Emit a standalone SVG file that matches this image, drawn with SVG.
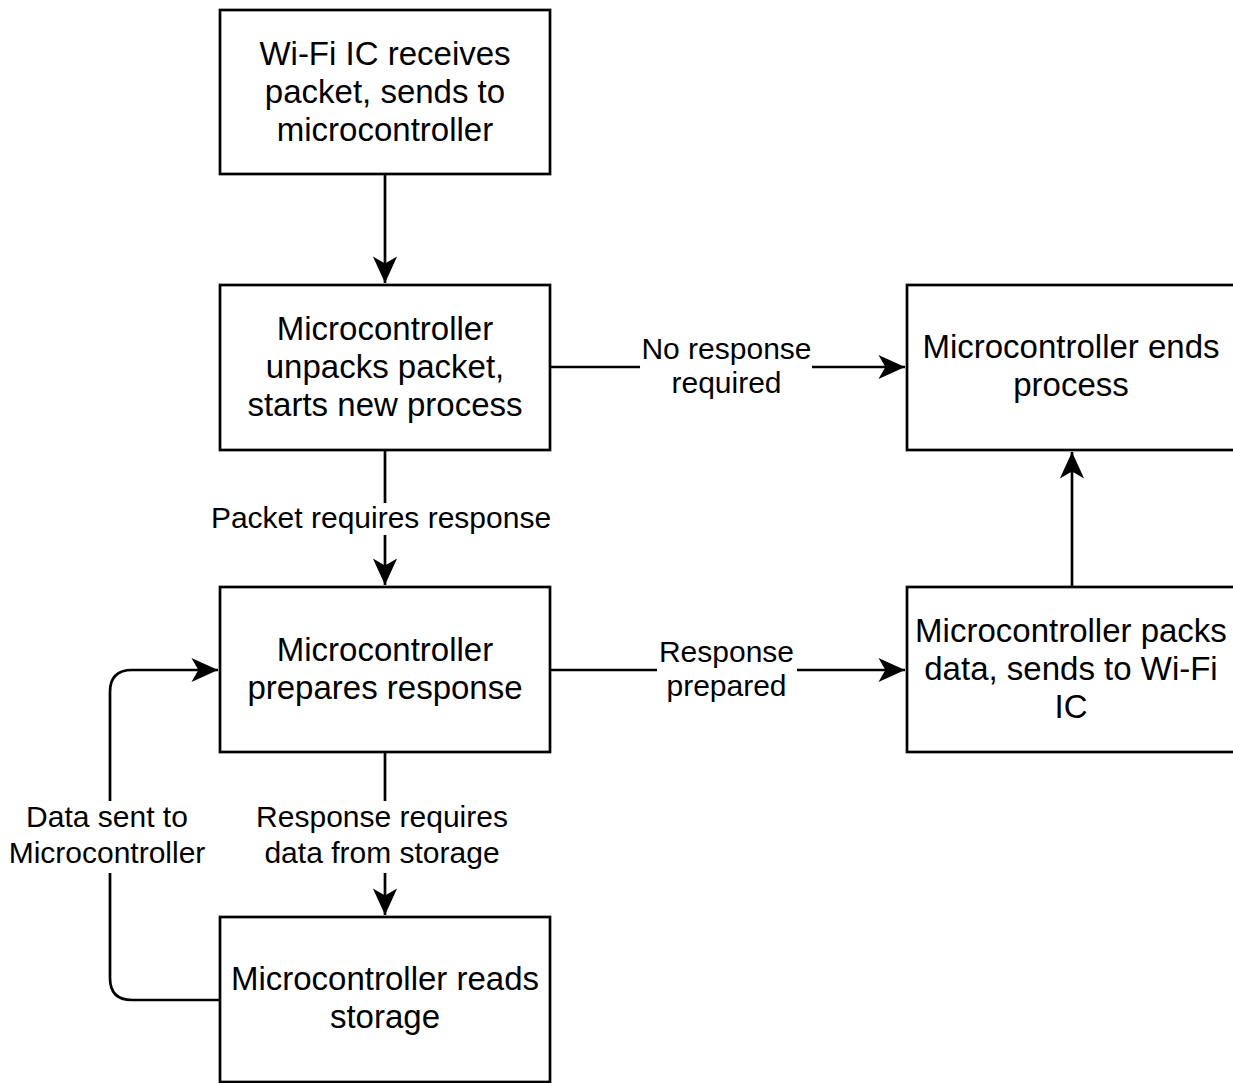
<svg xmlns="http://www.w3.org/2000/svg" width="1233" height="1083" viewBox="0 0 1233 1083">
<style>
.box{fill:#fff;stroke:#000;stroke-width:2.7}
.nt{font-family:"Liberation Sans",Arial,Helvetica,sans-serif;font-size:33px;fill:#000;text-anchor:middle}
.lt{font-family:"Liberation Sans",Arial,Helvetica,sans-serif;font-size:30px;fill:#000;text-anchor:middle}
.edge{fill:none;stroke:#000;stroke-width:2.7}
.bg{fill:#fff;stroke:none}
</style>
<defs>
<marker id="arr" markerUnits="userSpaceOnUse" markerWidth="30" markerHeight="30" viewBox="-25 -12 26 24" refX="0" refY="0" orient="auto">
<path d="M0,0 L-23,-10.5 L-17,0 L-23,10.5 Z" fill="#000"/>
</marker>
</defs>
<rect width="1233" height="1083" fill="#fff"/>
<g id="connectors">
<path class="edge" d="M385,174 L385,283" marker-end="url(#arr)"/>
<path class="edge" d="M550,367 L905,367" marker-end="url(#arr)"/>
<path class="edge" d="M385,450 L385,585" marker-end="url(#arr)"/>
<path class="edge" d="M550,670 L905,670" marker-end="url(#arr)"/>
<path class="edge" d="M385,752 L385,915" marker-end="url(#arr)"/>
<path class="edge" d="M1072,587 L1072,452" marker-end="url(#arr)"/>
<path class="edge" d="M220,1000 L132,1000 Q110,1000 110,978 L110,692 Q110,670 132,670 L218,670" marker-end="url(#arr)"/>
<g id="label-no-response">
<rect class="bg" x="640" y="338" width="172" height="60"/>
<text class="lt" x="726.5" y="359">No response</text>
<text class="lt" x="726.5" y="393">required</text>
</g>
<g id="label-packet-requires">
<rect class="bg" x="209" y="503" width="344" height="32"/>
<text class="lt" x="381" y="528">Packet requires response</text>
</g>
<g id="label-response-prepared">
<rect class="bg" x="657" y="640" width="140" height="62"/>
<text class="lt" x="726.5" y="662">Response</text>
<text class="lt" x="726.5" y="696">prepared</text>
</g>
<g id="label-response-requires">
<rect class="bg" x="254" y="801" width="257" height="72"/>
<text class="lt" x="382" y="827">Response requires</text>
<text class="lt" x="382" y="863">data from storage</text>
</g>
<g id="label-data-sent">
<rect class="bg" x="6" y="801" width="208" height="72"/>
<text class="lt" x="107" y="827">Data sent to</text>
<text class="lt" x="107" y="863">Microcontroller</text>
</g>
</g>
<g id="node-wifi-receives">
<rect class="box" x="220" y="10" width="330" height="164"/>
<text class="nt" x="385" y="65">Wi-Fi IC receives</text>
<text class="nt" x="385" y="103">packet, sends to</text>
<text class="nt" x="385" y="141">microcontroller</text>
</g>
<g id="node-unpacks">
<rect class="box" x="220" y="285" width="330" height="165"/>
<text class="nt" x="385" y="340">Microcontroller</text>
<text class="nt" x="385" y="378">unpacks packet,</text>
<text class="nt" x="385" y="416">starts new process</text>
</g>
<g id="node-prepares">
<rect class="box" x="220" y="587" width="330" height="165"/>
<text class="nt" x="385" y="661">Microcontroller</text>
<text class="nt" x="385" y="699">prepares response</text>
</g>
<g id="node-reads">
<rect class="box" x="220" y="917" width="330" height="165"/>
<text class="nt" x="385" y="990">Microcontroller reads</text>
<text class="nt" x="385" y="1028">storage</text>
</g>
<g id="node-ends">
<rect class="box" x="907" y="285" width="330" height="165"/>
<text class="nt" x="1071" y="358">Microcontroller ends</text>
<text class="nt" x="1071" y="396">process</text>
</g>
<g id="node-packs">
<rect class="box" x="907" y="587" width="330" height="165"/>
<text class="nt" x="1071" y="642">Microcontroller packs</text>
<text class="nt" x="1071" y="680">data, sends to Wi-Fi</text>
<text class="nt" x="1071" y="718">IC</text>
</g>
</svg>
